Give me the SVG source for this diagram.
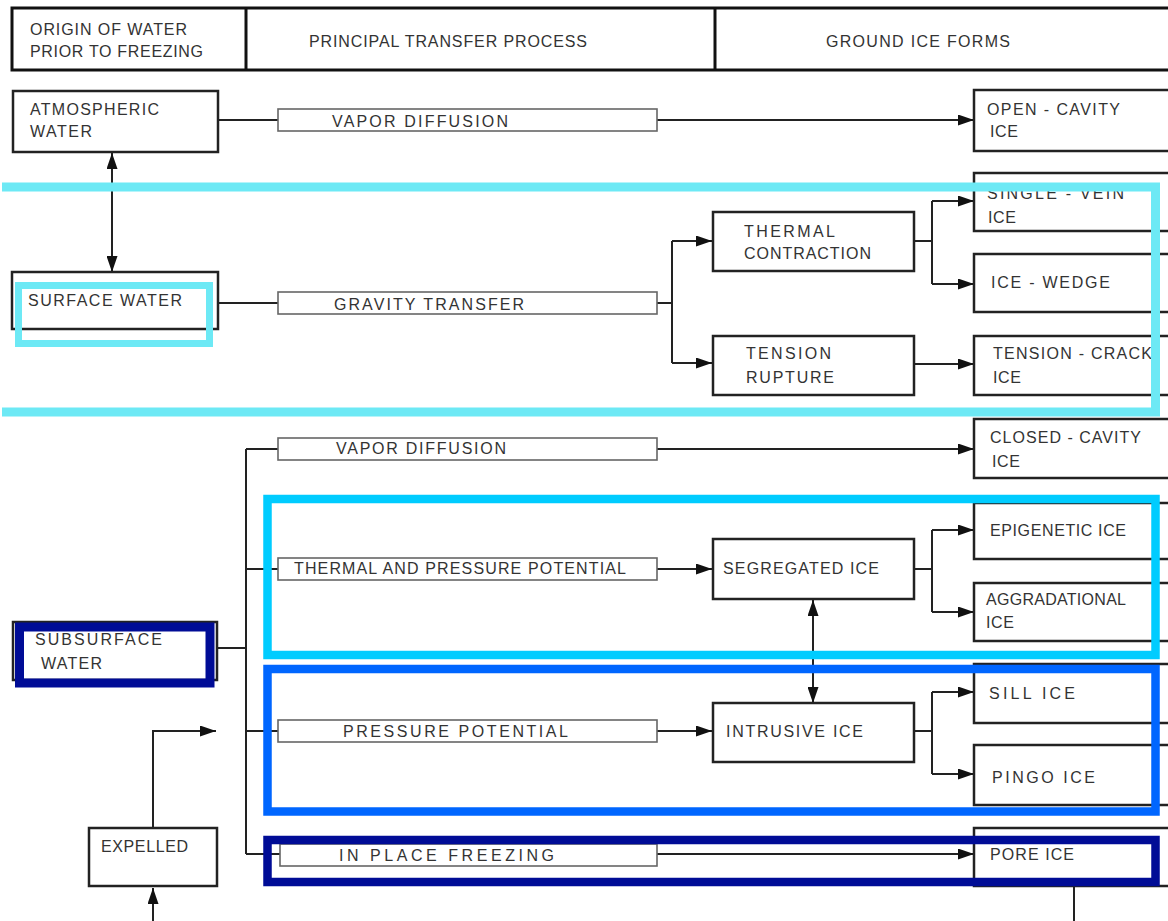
<svg xmlns="http://www.w3.org/2000/svg" width="1168" height="921" viewBox="0 0 1168 921">
<style>
  .t { font-family: "Liberation Sans", Arial, sans-serif; font-size: 16px; fill: #333; }
  .box { fill: #fff; stroke: #222; stroke-width: 2.5; }
  .proc { fill: #fff; stroke: #666; stroke-width: 1.6; }
  .hdr { fill: #fff; stroke: #111; stroke-width: 3; }
  .c { fill: none; stroke: #222; stroke-width: 2; }
  .a { marker-end: url(#ah); }
  .d { marker-start: url(#ah); marker-end: url(#ah); }
  .hl { fill: none; }
</style>
<defs>
  <marker id="ah" markerUnits="userSpaceOnUse" viewBox="0 0 16 11" refX="16" refY="5.5" markerWidth="16" markerHeight="11" orient="auto-start-reverse">
    <path d="M0,0 L16,5.5 L0,11 z" fill="#111"/>
  </marker>
</defs>
<rect width="1168" height="921" fill="#fff"/>

<g id="header">
  <rect class="hdr" x="12" y="8" width="1170" height="62"/>
  <line x1="246" y1="8" x2="246" y2="70" stroke="#111" stroke-width="3"/>
  <line x1="715" y1="8" x2="715" y2="70" stroke="#111" stroke-width="3"/>
  <text class="t" x="30" y="35" textLength="157" lengthAdjust="spacing">ORIGIN OF WATER</text>
  <text class="t" x="30" y="57" textLength="173" lengthAdjust="spacing">PRIOR TO FREEZING</text>
  <text class="t" x="309" y="47" textLength="278" lengthAdjust="spacing">PRINCIPAL TRANSFER PROCESS</text>
  <text class="t" x="826" y="47" textLength="184" lengthAdjust="spacing">GROUND ICE FORMS</text>
</g>

<g id="connectors">
  <path class="c" d="M217 120 H278"/>
  <path class="c a" d="M657 120 H974"/>
  <path class="c d" d="M112 153 V272"/>
  <path class="c" d="M218 303 H278"/>
  <path class="c" d="M657 303 H672 M672 241 V363"/>
  <path class="c a" d="M672 241 H712"/>
  <path class="c a" d="M672 363 H712"/>
  <path class="c" d="M914 241 H932 M932 201 V284"/>
  <path class="c a" d="M932 201 H974"/>
  <path class="c a" d="M932 284 H974"/>
  <path class="c a" d="M914 364 H974"/>
  <path class="c" d="M217 648 H246 M246 449 V854 M246 449 H278 M246 569 H278 M246 731 H278 M246 854 H280"/>
  <path class="c a" d="M657 449 H974"/>
  <path class="c a" d="M657 569 H712"/>
  <path class="c" d="M914 569 H932 M932 530 V612"/>
  <path class="c a" d="M932 530 H974"/>
  <path class="c a" d="M932 612 H974"/>
  <path class="c d" d="M813 600 V703"/>
  <path class="c a" d="M657 731 H712"/>
  <path class="c" d="M914 731 H932 M932 692 V774"/>
  <path class="c a" d="M932 692 H974"/>
  <path class="c a" d="M932 774 H974"/>
  <path class="c a" d="M657 854 H974"/>
  <path class="c a" d="M153 828 V731 H216"/>
  <path class="c a" d="M153 921 V888"/>
  <path class="c" d="M1074 886 V921"/>
</g>

<g id="atmospheric-water">
  <rect class="box" x="13" y="91" width="205" height="61"/>
  <text class="t" x="30" y="115" textLength="129" lengthAdjust="spacing">ATMOSPHERIC</text>
  <text class="t" x="30" y="137" textLength="62" lengthAdjust="spacing">WATER</text>
</g>
<g id="surface-water">
  <rect class="box" x="12" y="272" width="206" height="57"/>
  <text class="t" x="28" y="306" textLength="154" lengthAdjust="spacing">SURFACE WATER</text>
</g>
<g id="subsurface-water">
  <rect class="box" x="13" y="622" width="204" height="58"/>
  <text class="t" x="35" y="645" textLength="127" lengthAdjust="spacing">SUBSURFACE</text>
  <text class="t" x="41" y="669" textLength="61" lengthAdjust="spacing">WATER</text>
</g>
<g id="expelled">
  <rect class="box" x="89" y="828" width="128" height="58"/>
  <text class="t" x="101" y="852" textLength="87" lengthAdjust="spacing">EXPELLED</text>
</g>

<g id="vapor-diffusion-1">
  <rect class="proc" x="278" y="109" width="379" height="22"/>
  <text class="t" x="332" y="127" textLength="176" lengthAdjust="spacing">VAPOR DIFFUSION</text>
</g>
<g id="gravity-transfer">
  <rect class="proc" x="278" y="292" width="379" height="22"/>
  <text class="t" x="334" y="310" textLength="190" lengthAdjust="spacing">GRAVITY TRANSFER</text>
</g>
<g id="vapor-diffusion-2">
  <rect class="proc" x="278" y="438" width="379" height="22"/>
  <text class="t" x="336" y="454" textLength="170" lengthAdjust="spacing">VAPOR DIFFUSION</text>
</g>
<g id="thermal-pressure-potential">
  <rect class="proc" x="278" y="558" width="379" height="22"/>
  <text class="t" x="294" y="574" textLength="332" lengthAdjust="spacing">THERMAL AND PRESSURE POTENTIAL</text>
</g>
<g id="pressure-potential">
  <rect class="proc" x="278" y="720" width="379" height="22"/>
  <text class="t" x="343" y="737" textLength="225" lengthAdjust="spacing">PRESSURE POTENTIAL</text>
</g>
<g id="in-place-freezing">
  <rect class="proc" x="280" y="844" width="377" height="22"/>
  <text class="t" x="339" y="861" textLength="215" lengthAdjust="spacing">IN PLACE FREEZING</text>
</g>

<g id="thermal-contraction">
  <rect class="box" x="713" y="212" width="201" height="59"/>
  <text class="t" x="744" y="237" textLength="91" lengthAdjust="spacing">THERMAL</text>
  <text class="t" x="744" y="259" textLength="127" lengthAdjust="spacing">CONTRACTION</text>
</g>
<g id="tension-rupture">
  <rect class="box" x="713" y="336" width="201" height="59"/>
  <text class="t" x="746" y="359" textLength="85" lengthAdjust="spacing">TENSION</text>
  <text class="t" x="746" y="383" textLength="88" lengthAdjust="spacing">RUPTURE</text>
</g>
<g id="segregated-ice">
  <rect class="box" x="713" y="539" width="201" height="60"/>
  <text class="t" x="723" y="574" textLength="156" lengthAdjust="spacing">SEGREGATED ICE</text>
</g>
<g id="intrusive-ice">
  <rect class="box" x="713" y="703" width="201" height="59"/>
  <text class="t" x="726" y="737" textLength="137" lengthAdjust="spacing">INTRUSIVE ICE</text>
</g>

<g id="open-cavity-ice">
  <rect class="box" x="974" y="90" width="210" height="61"/>
  <text class="t" x="987" y="115" textLength="133" lengthAdjust="spacing">OPEN - CAVITY</text>
  <text class="t" x="990" y="137" textLength="28" lengthAdjust="spacing">ICE</text>
</g>
<g id="single-vein-ice">
  <rect class="box" x="974" y="173" width="210" height="58"/>
  <text class="t" x="987" y="199" textLength="137" lengthAdjust="spacing">SINGLE - VEIN</text>
  <text class="t" x="988" y="223" textLength="28" lengthAdjust="spacing">ICE</text>
</g>
<g id="ice-wedge">
  <rect class="box" x="974" y="254" width="210" height="58"/>
  <text class="t" x="991" y="288" textLength="119" lengthAdjust="spacing">ICE - WEDGE</text>
</g>
<g id="tension-crack-ice">
  <rect class="box" x="974" y="336" width="210" height="59"/>
  <text class="t" x="993" y="359" textLength="159" lengthAdjust="spacing">TENSION - CRACK</text>
  <text class="t" x="993" y="383" textLength="28" lengthAdjust="spacing">ICE</text>
</g>
<g id="closed-cavity-ice">
  <rect class="box" x="974" y="419" width="210" height="59"/>
  <text class="t" x="990" y="443" textLength="151" lengthAdjust="spacing">CLOSED - CAVITY</text>
  <text class="t" x="992" y="467" textLength="28" lengthAdjust="spacing">ICE</text>
</g>
<g id="epigenetic-ice">
  <rect class="box" x="974" y="503" width="210" height="56"/>
  <text class="t" x="990" y="536" textLength="136" lengthAdjust="spacing">EPIGENETIC ICE</text>
</g>
<g id="aggradational-ice">
  <rect class="box" x="974" y="583" width="210" height="58"/>
  <text class="t" x="986" y="605" textLength="140" lengthAdjust="spacing">AGGRADATIONAL</text>
  <text class="t" x="986" y="628" textLength="28" lengthAdjust="spacing">ICE</text>
</g>
<g id="sill-ice">
  <rect class="box" x="974" y="664" width="210" height="59"/>
  <text class="t" x="989" y="699" textLength="86" lengthAdjust="spacing">SILL ICE</text>
</g>
<g id="pingo-ice">
  <rect class="box" x="974" y="745" width="210" height="60"/>
  <text class="t" x="992" y="783" textLength="103" lengthAdjust="spacing">PINGO ICE</text>
</g>
<g id="pore-ice">
  <rect class="box" x="974" y="828" width="210" height="58"/>
  <text class="t" x="990" y="860" textLength="84" lengthAdjust="spacing">PORE ICE</text>
</g>

<g id="highlights">
  <path class="hl" d="M2 187 H1155.5 V412 H2" stroke="#6de9f5" stroke-width="9"/>
  <rect class="hl" x="18.5" y="285.5" width="191" height="58" stroke="#6de9f5" stroke-width="7"/>
  <rect class="hl" x="267.5" y="499" width="888" height="156" stroke="#00ccff" stroke-width="8.5"/>
  <rect class="hl" x="267.5" y="669" width="888" height="142.5" stroke="#0066ff" stroke-width="8.5"/>
  <rect class="hl" x="267.5" y="840" width="888" height="42" stroke="#000c96" stroke-width="8.5"/>
  <rect class="hl" x="19.5" y="627" width="190.5" height="56" stroke="#000c96" stroke-width="9"/>
</g>
</svg>
